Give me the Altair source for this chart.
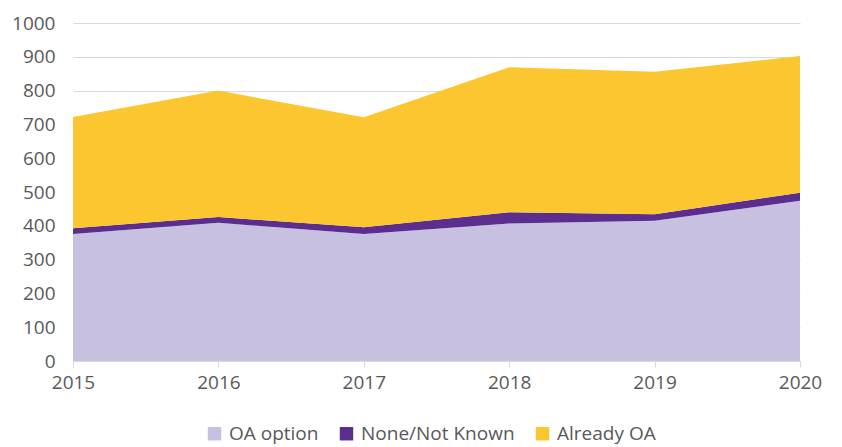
import altair as alt
import pandas as pd

years = [2015, 2016, 2017, 2018, 2019, 2020]
series = ["OA option", "None/Not Known", "Already OA"]
oa_option = [376, 409, 376, 407, 415, 474]
none_known = [17, 17, 20, 33, 19, 24]
already_oa = [329, 374, 325, 429, 422, 404]
colors = ["#c8c0e0", "#5b2d8e", "#fbc62f"]

rows = []
for i, y in enumerate(years):
    for k, (name, vals) in enumerate(zip(series, [oa_option, none_known, already_oa])):
        rows.append({"year": y, "series": name, "value": vals[i], "ord": k})
df = pd.DataFrame(rows)

FONT = "Open Sans"

chart = alt.Chart(df).mark_area(opacity=1).encode(
    x=alt.X("year:Q", scale=alt.Scale(domain=[2015, 2020], nice=False, zero=False),
            axis=alt.Axis(values=years, format="d", title=None, grid=False,
                          labelFontSize=19, labelColor="#595959", labelFont=FONT,
                          domainColor="#d9d9d9", tickColor="#d9d9d9", tickSize=6,
                          labelPadding=6, labelFlush=False)),
    y=alt.Y("value:Q", stack="zero", scale=alt.Scale(domain=[0, 1000], nice=False),
            axis=alt.Axis(values=list(range(0, 1001, 100)), format="d", title=None,
                          domain=False, ticks=False,
                          labelFontSize=19, labelColor="#595959", labelFont=FONT,
                          gridColor="#d9d9d9", labelPadding=18)),
    color=alt.Color("series:N", scale=alt.Scale(domain=series, range=colors),
                    sort=series,
                    legend=alt.Legend(title=None, orient="none", direction="horizontal",
                                      legendX=132, legendY=401,
                                      symbolType="square", symbolSize=180,
                                      symbolStrokeWidth=0,
                                      labelFontSize=19, labelColor="#595959", labelFont=FONT,
                                      columnPadding=18, labelOffset=5)),
    order=alt.Order("ord:Q"),
).properties(
    width=727, height=338,
    autosize=alt.AutoSizeParams(type="none"),
    padding={"left": 65, "top": 15, "right": 34, "bottom": 85},
).configure_view(stroke=None)

chart.save("out.html", embed_options={"renderer": "svg", "actions": False})
